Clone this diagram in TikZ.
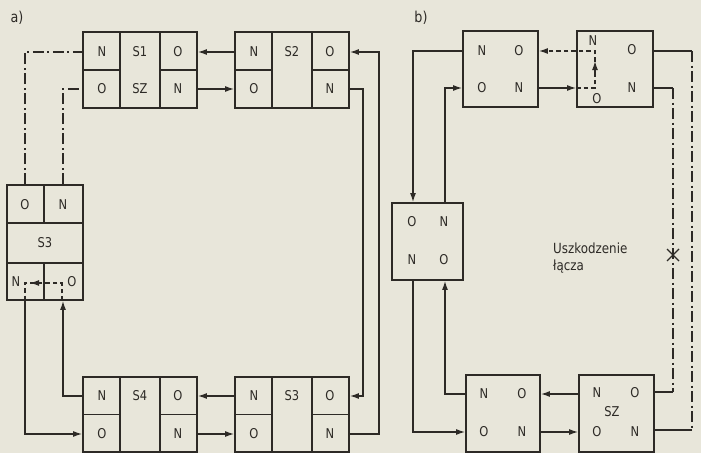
\documentclass[tikz,border=0pt]{standalone}
\usepackage{fontspec}
\setmainfont[FakeStretch=0.85]{DejaVu Sans}
\usetikzlibrary{arrows.meta}
\definecolor{paper}{RGB}{232,230,218}
\definecolor{ink}{RGB}{45,42,38}
\begin{document}
\begin{tikzpicture}[x=1pt,y=-1pt,
  bx/.style={draw=ink, line width=1.8pt, inner sep=0pt},
  div/.style={draw=ink, line width=1.6pt},
  lbl/.style={font=\fontsize{13.5}{14}\selectfont, text=ink, inner sep=0pt},
  con/.style={draw=ink, line width=1.3pt},
  tip/.style={-{Latex[length=9pt,width=6pt]}},
  arr/.style={con, tip},
  dd/.style={con, dash pattern=on 11pt off 3.5pt on 2pt off 3.5pt},
  dsh/.style={con, dash pattern=on 4.5pt off 3pt}]
\fill[paper] (0,0) rectangle (701,453);
\useasboundingbox (0,0) rectangle (701,453);

% ---------------- a) ----------------
\node[lbl, font=\fontsize{15}{16}\selectfont] (la) at (17,18) {a)};
\node[bx, minimum width=114pt, minimum height=76pt] (s1) at (140,70) {};
\node[bx, minimum width=114pt, minimum height=76pt] (s2) at (292,70) {};
\node[bx, minimum width=76pt, minimum height=115pt] (l3) at (45,242.5) {};
\node[bx, minimum width=114pt, minimum height=75pt] (s4) at (140,414.5) {};
\node[bx, minimum width=114pt, minimum height=75pt] (q3) at (292,414.5) {};

\foreach \b in {s1,s2,s4,q3}{
  \draw[div] ([xshift=38pt]\b.north west) -- ([xshift=38pt]\b.south west);
  \draw[div] ([xshift=-38pt]\b.north east) -- ([xshift=-38pt]\b.south east);
  \draw[div] (\b.west) -- ++(38,0);
  \draw[div] (\b.east) -- ++(-38,0);
}
\draw[div] ([yshift=-39pt]l3.north west) -- ([yshift=-39pt]l3.north east);
\draw[div] ([yshift=38pt]l3.south west) -- ([yshift=38pt]l3.south east);
\draw[div] ([xshift=-1pt]l3.north) -- ++(0,39);
\draw[div] ([xshift=-1pt]l3.south) -- ++(0,-38);

\node[lbl] (s1a) at (102,52) {N};
\node[lbl] (s1b) at (140,52) {S1};
\node[lbl] (s1c) at (178,52) {O};
\node[lbl] (s1d) at (102,89) {O};
\node[lbl] (s1e) at (140,89) {SZ};
\node[lbl] (s1f) at (178,89) {N};

\node[lbl] (s2a) at (254,52) {N};
\node[lbl] (s2b) at (292,52) {S2};
\node[lbl] (s2c) at (330,52) {O};
\node[lbl] (s2d) at (254,89) {O};
\node[lbl] (s2f) at (330,89) {N};

\node[lbl] (l3a) at (25,205) {O};
\node[lbl] (l3b) at (63,205) {N};
\node[lbl] (l3c) at (45,243) {S3};
\node[lbl] (l3d) at (16,282) {N};
\node[lbl] (l3e) at (72,282) {O};

\node[lbl] (s4a) at (102,396) {N};
\node[lbl] (s4b) at (140,396) {S4};
\node[lbl] (s4c) at (178,396) {O};
\node[lbl] (s4d) at (102,434) {O};
\node[lbl] (s4f) at (178,434) {N};

\node[lbl] (q3a) at (254,396) {N};
\node[lbl] (q3b) at (292,396) {S3};
\node[lbl] (q3c) at (330,396) {O};
\node[lbl] (q3d) at (254,434) {O};
\node[lbl] (q3f) at (330,434) {N};

\coordinate (ca1) at (379,0);
\coordinate (ca2) at (363,0);
\coordinate (cl1) at (25,0);
\coordinate (cl2) at (63,0);
\coordinate (dk) at (62,283);
\coordinate (dl) at (25,283);

\draw[arr] (s2.west |- s1a) -- (s1.east |- s1a);
\draw[arr] (s1.east |- s1d) -- (s2.west |- s1d);
\draw[arr] (q3.east |- q3f) -- (ca1 |- q3f) -- (ca1 |- s2c) -- (s2.east |- s2c);
\draw[arr] (s2.east |- s2f) -- (ca2 |- s2f) -- (ca2 |- q3c) -- (q3.east |- q3c);
\draw[arr] (q3.west |- s4a) -- (s4.east |- s4a);
\draw[arr] (s4.east |- s4d) -- (q3.west |- s4d);
\draw[arr] (s4.west |- s4a) -- (cl2 |- s4a) -- (cl2 |- l3.south);
\draw[arr] (l3.south -| cl1) -- (cl1 |- s4d) -- (s4.west |- s4d);
\draw[dsh] (l3.south -| dk) -- (dk) -- (dl) -- (l3.south -| dl);
\draw[con, tip] ([xshift=14pt]dl) -- ([xshift=5pt]dl);
\draw[dd] (l3.north -| cl1) -- (cl1 |- s1a) -- (s1.west |- s1a);
\draw[dd] (l3.north -| cl2) -- (cl2 |- s1d) -- (s1.west |- s1d);

% ---------------- b) ----------------
\node[lbl, font=\fontsize{15}{16}\selectfont] (lb) at (421,18) {b)};
\node[bx, minimum width=75pt, minimum height=76pt] (b1) at (500.5,69) {};
\node[bx, minimum width=76pt, minimum height=76pt] (b2) at (615,69) {};
\node[bx, minimum width=71pt, minimum height=77pt] (b4) at (427.5,241.5) {};
\node[bx, minimum width=74pt, minimum height=77pt] (b3) at (503,413.5) {};
\node[bx, minimum width=75pt, minimum height=77pt] (bz) at (616.5,413.5) {};

\node[lbl] (b1a) at (482,51) {N};
\node[lbl] (b1b) at (519,51) {O};
\node[lbl] (b1c) at (482,88) {O};
\node[lbl] (b1d) at (519,88) {N};

\node[lbl] (b2a) at (593,41) {N};
\node[lbl] (b2b) at (632,50) {O};
\node[lbl] (b2c) at (597,99) {O};
\node[lbl] (b2d) at (632,88) {N};

\node[lbl] (b4a) at (412,222) {O};
\node[lbl] (b4b) at (444,222) {N};
\node[lbl] (b4c) at (412,260) {N};
\node[lbl] (b4d) at (444,260) {O};

\node[lbl] (b3a) at (484,394) {N};
\node[lbl] (b3b) at (522,394) {O};
\node[lbl] (b3c) at (484,432) {O};
\node[lbl] (b3d) at (522,432) {N};

\node[lbl] (bza) at (597,393) {N};
\node[lbl] (bzb) at (635,393) {O};
\node[lbl] (bze) at (612,412) {SZ};
\node[lbl] (bzc) at (597,432) {O};
\node[lbl] (bzd) at (635,432) {N};

\node[lbl, align=left, anchor=west, font=\fontsize{14}{17}\selectfont] (txt) at (553,258) {Uszkodzenie\\łącza};

\coordinate (cb1) at (413,0);
\coordinate (cb2) at (445,0);
\coordinate (cb3) at (673,0);
\coordinate (cb4) at (692,0);
\coordinate (cb5) at (595,0);
\coordinate (t1) at (0,51);
\coordinate (t2) at (0,88);
\coordinate (r1) at (0,392);
\coordinate (r2) at (0,430);
\coordinate (upa) at (595,74);
\coordinate (upb) at (595,61);
\coordinate (brk) at (673,255);

\draw[arr] (b1.west |- t1) -- (cb1 |- t1) -- (cb1 |- b4.north);
\draw[arr] (cb2 |- b4.north) -- (cb2 |- t2) -- (b1.west |- t2);
\draw[arr] (b1.east |- t2) -- (b2.west |- t2);
\draw[dsh, tip] (b2.west |- t2) -- (cb5 |- t2) -- (cb5 |- t1) -- (b1.east |- t1);
\draw[con, tip] (upa) -- (upb);
\draw[con] (b2.east |- t1) -- (cb4 |- t1);
\draw[dd] (cb4 |- t1) -- (cb4 |- r2);
\draw[con] (cb4 |- r2) -- (bz.east |- r2);
\draw[con] (b2.east |- t2) -- (cb3 |- t2);
\draw[dd] (cb3 |- t2) -- (cb3 |- r1);
\draw[con] (cb3 |- r1) -- (bz.east |- r1);
\draw[con] ([shift={(-6,-6)}]brk) -- ([shift={(6,6)}]brk);
\draw[con] ([shift={(-6,6)}]brk) -- ([shift={(6,-6)}]brk);
\draw[arr] (bz.west |- b3a) -- (b3.east |- b3a);
\draw[arr] (b3.east |- b3c) -- (bz.west |- b3c);
\draw[arr] (b3.west |- b3a) -- (cb2 |- b3a) -- (cb2 |- b4.south);
\draw[arr] (cb1 |- b4.south) -- (cb1 |- b3c) -- (b3.west |- b3c);
\end{tikzpicture}
\end{document}
